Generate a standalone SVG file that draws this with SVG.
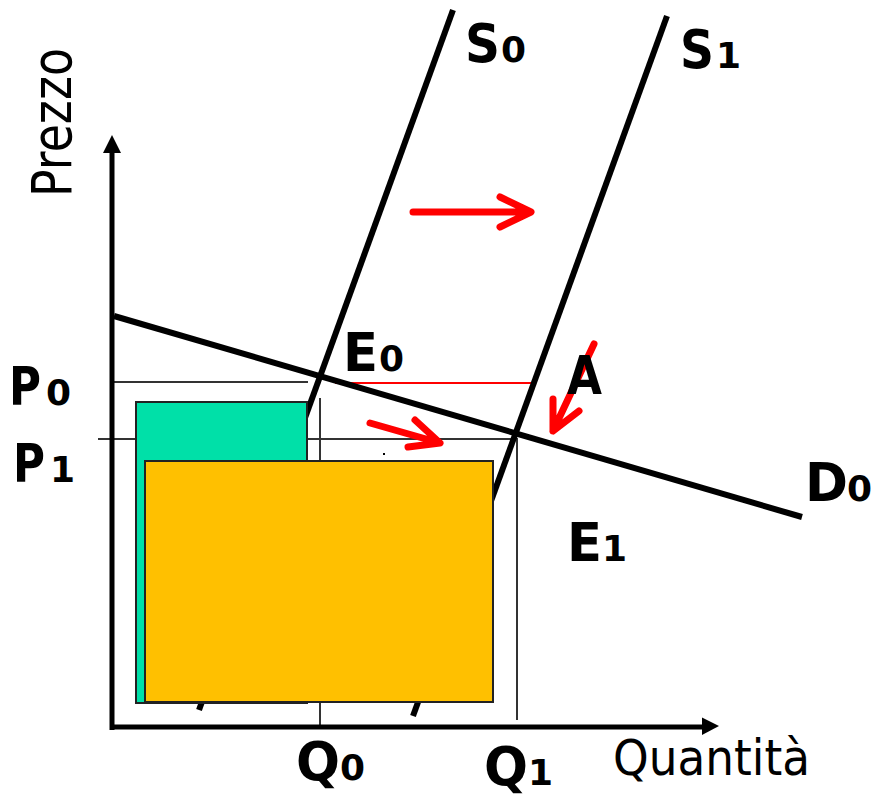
<svg xmlns="http://www.w3.org/2000/svg" width="872" height="798" viewBox="0 0 872 798">
<style>
.curve{stroke:#000;stroke-width:6;fill:none}
.guide{stroke:#333;stroke-width:2;fill:none}
.axis{stroke:#000;stroke-width:5;fill:none}
.red{stroke:#ff0000;stroke-width:7;fill:none;stroke-linecap:round;stroke-linejoin:round}
.lbl{font-family:"DejaVu Sans","Liberation Sans",sans-serif;font-weight:bold;font-size:53px;fill:#000}
.sub{font-family:"DejaVu Sans","Liberation Sans",sans-serif;font-weight:bold;font-size:36px;fill:#000}
.ax{font-family:"DejaVu Sans","Liberation Sans",sans-serif;fill:#000}
</style>
<rect width="872" height="798" fill="#fff"/>
<g id="guides">
<line class="guide" x1="114" y1="382" x2="308" y2="382"/>
<line class="guide" x1="98" y1="439" x2="514" y2="439"/>
<line class="guide" x1="320" y1="398" x2="320" y2="727"/>
<line class="guide" x1="517" y1="438" x2="517" y2="720"/>
<line x1="335" y1="383" x2="533" y2="383" stroke="#ff0000" stroke-width="2"/>
</g>
<g id="connectors">
<line id="S0-line" class="curve" x1="453" y1="10" x2="199" y2="710"/>
<line id="S1-line" class="curve" x1="667" y1="16" x2="413" y2="716"/>
</g>
<g id="areas">
<rect id="teal" x="136" y="402" width="171" height="301" fill="#00e0a8" stroke="#222" stroke-width="2"/>
<rect id="yellow" x="145" y="461" width="348" height="241" fill="#ffc000" stroke="#222" stroke-width="2"/>
<rect x="383" y="453" width="2" height="2" fill="#000"/>
</g>
<g id="demand">
<line id="D0-line" class="curve" x1="114" y1="316" x2="802" y2="517"/>
</g>
<g id="axes">
<line class="axis" x1="112" y1="150" x2="112" y2="730"/>
<line class="axis" x1="110" y1="727" x2="705" y2="727"/>
<polygon points="112,135 103,153 121,153" fill="#000"/>
<polygon points="719,726 702,717.5 702,735" fill="#000"/>
<text class="ax" font-size="56" transform="translate(71,197) rotate(-90)" textLength="149" lengthAdjust="spacingAndGlyphs">Prezzo</text>
<text class="ax" font-size="49" x="613" y="775" textLength="197" lengthAdjust="spacingAndGlyphs">Quantità</text>
</g>
<g id="shift-arrows">
<path class="red" d="M413,212 H530 M500,197 L531,212 L500,227"/>
<path class="red" d="M370,423 L440,443 M415,420 L440,443 L408,447"/>
<path class="red" d="M594,344 L553,431 M553,399 L553,431 L579,411"/>
</g>
<g id="labels">
<g id="lbl-S0"><text class="lbl" x="465" y="62" textLength="35" lengthAdjust="spacingAndGlyphs">S</text><text class="sub" x="501" y="62">0</text></g>
<g id="lbl-S1"><text class="lbl" x="680" y="68" textLength="34" lengthAdjust="spacingAndGlyphs">S</text><text class="sub" x="716" y="68">1</text></g>
<g id="lbl-E0"><text class="lbl" x="343" y="371" textLength="35" lengthAdjust="spacingAndGlyphs">E</text><text class="sub" x="379" y="371">0</text></g>
<g id="lbl-A"><text class="lbl" x="567" y="394" textLength="35" lengthAdjust="spacingAndGlyphs">A</text></g>
<g id="lbl-D0"><text class="lbl" x="805" y="501" textLength="43" lengthAdjust="spacingAndGlyphs">D</text><text class="sub" x="847" y="501">0</text></g>
<g id="lbl-E1"><text class="lbl" x="567" y="561" textLength="35" lengthAdjust="spacingAndGlyphs">E</text><text class="sub" x="602" y="561">1</text></g>
<g id="lbl-P0"><text class="lbl" x="9" y="405" textLength="32" lengthAdjust="spacingAndGlyphs">P</text><text class="sub" x="46" y="405">0</text></g>
<g id="lbl-P1"><text class="lbl" x="13" y="482" textLength="32" lengthAdjust="spacingAndGlyphs">P</text><text class="sub" x="50" y="482">1</text></g>
<g id="lbl-Q0"><text class="lbl" x="296" y="780" textLength="44" lengthAdjust="spacingAndGlyphs">Q</text><text class="sub" x="340" y="780">0</text></g>
<g id="lbl-Q1"><text class="lbl" x="484" y="785" textLength="44" lengthAdjust="spacingAndGlyphs">Q</text><text class="sub" x="528" y="785">1</text></g>
</g>
</svg>
